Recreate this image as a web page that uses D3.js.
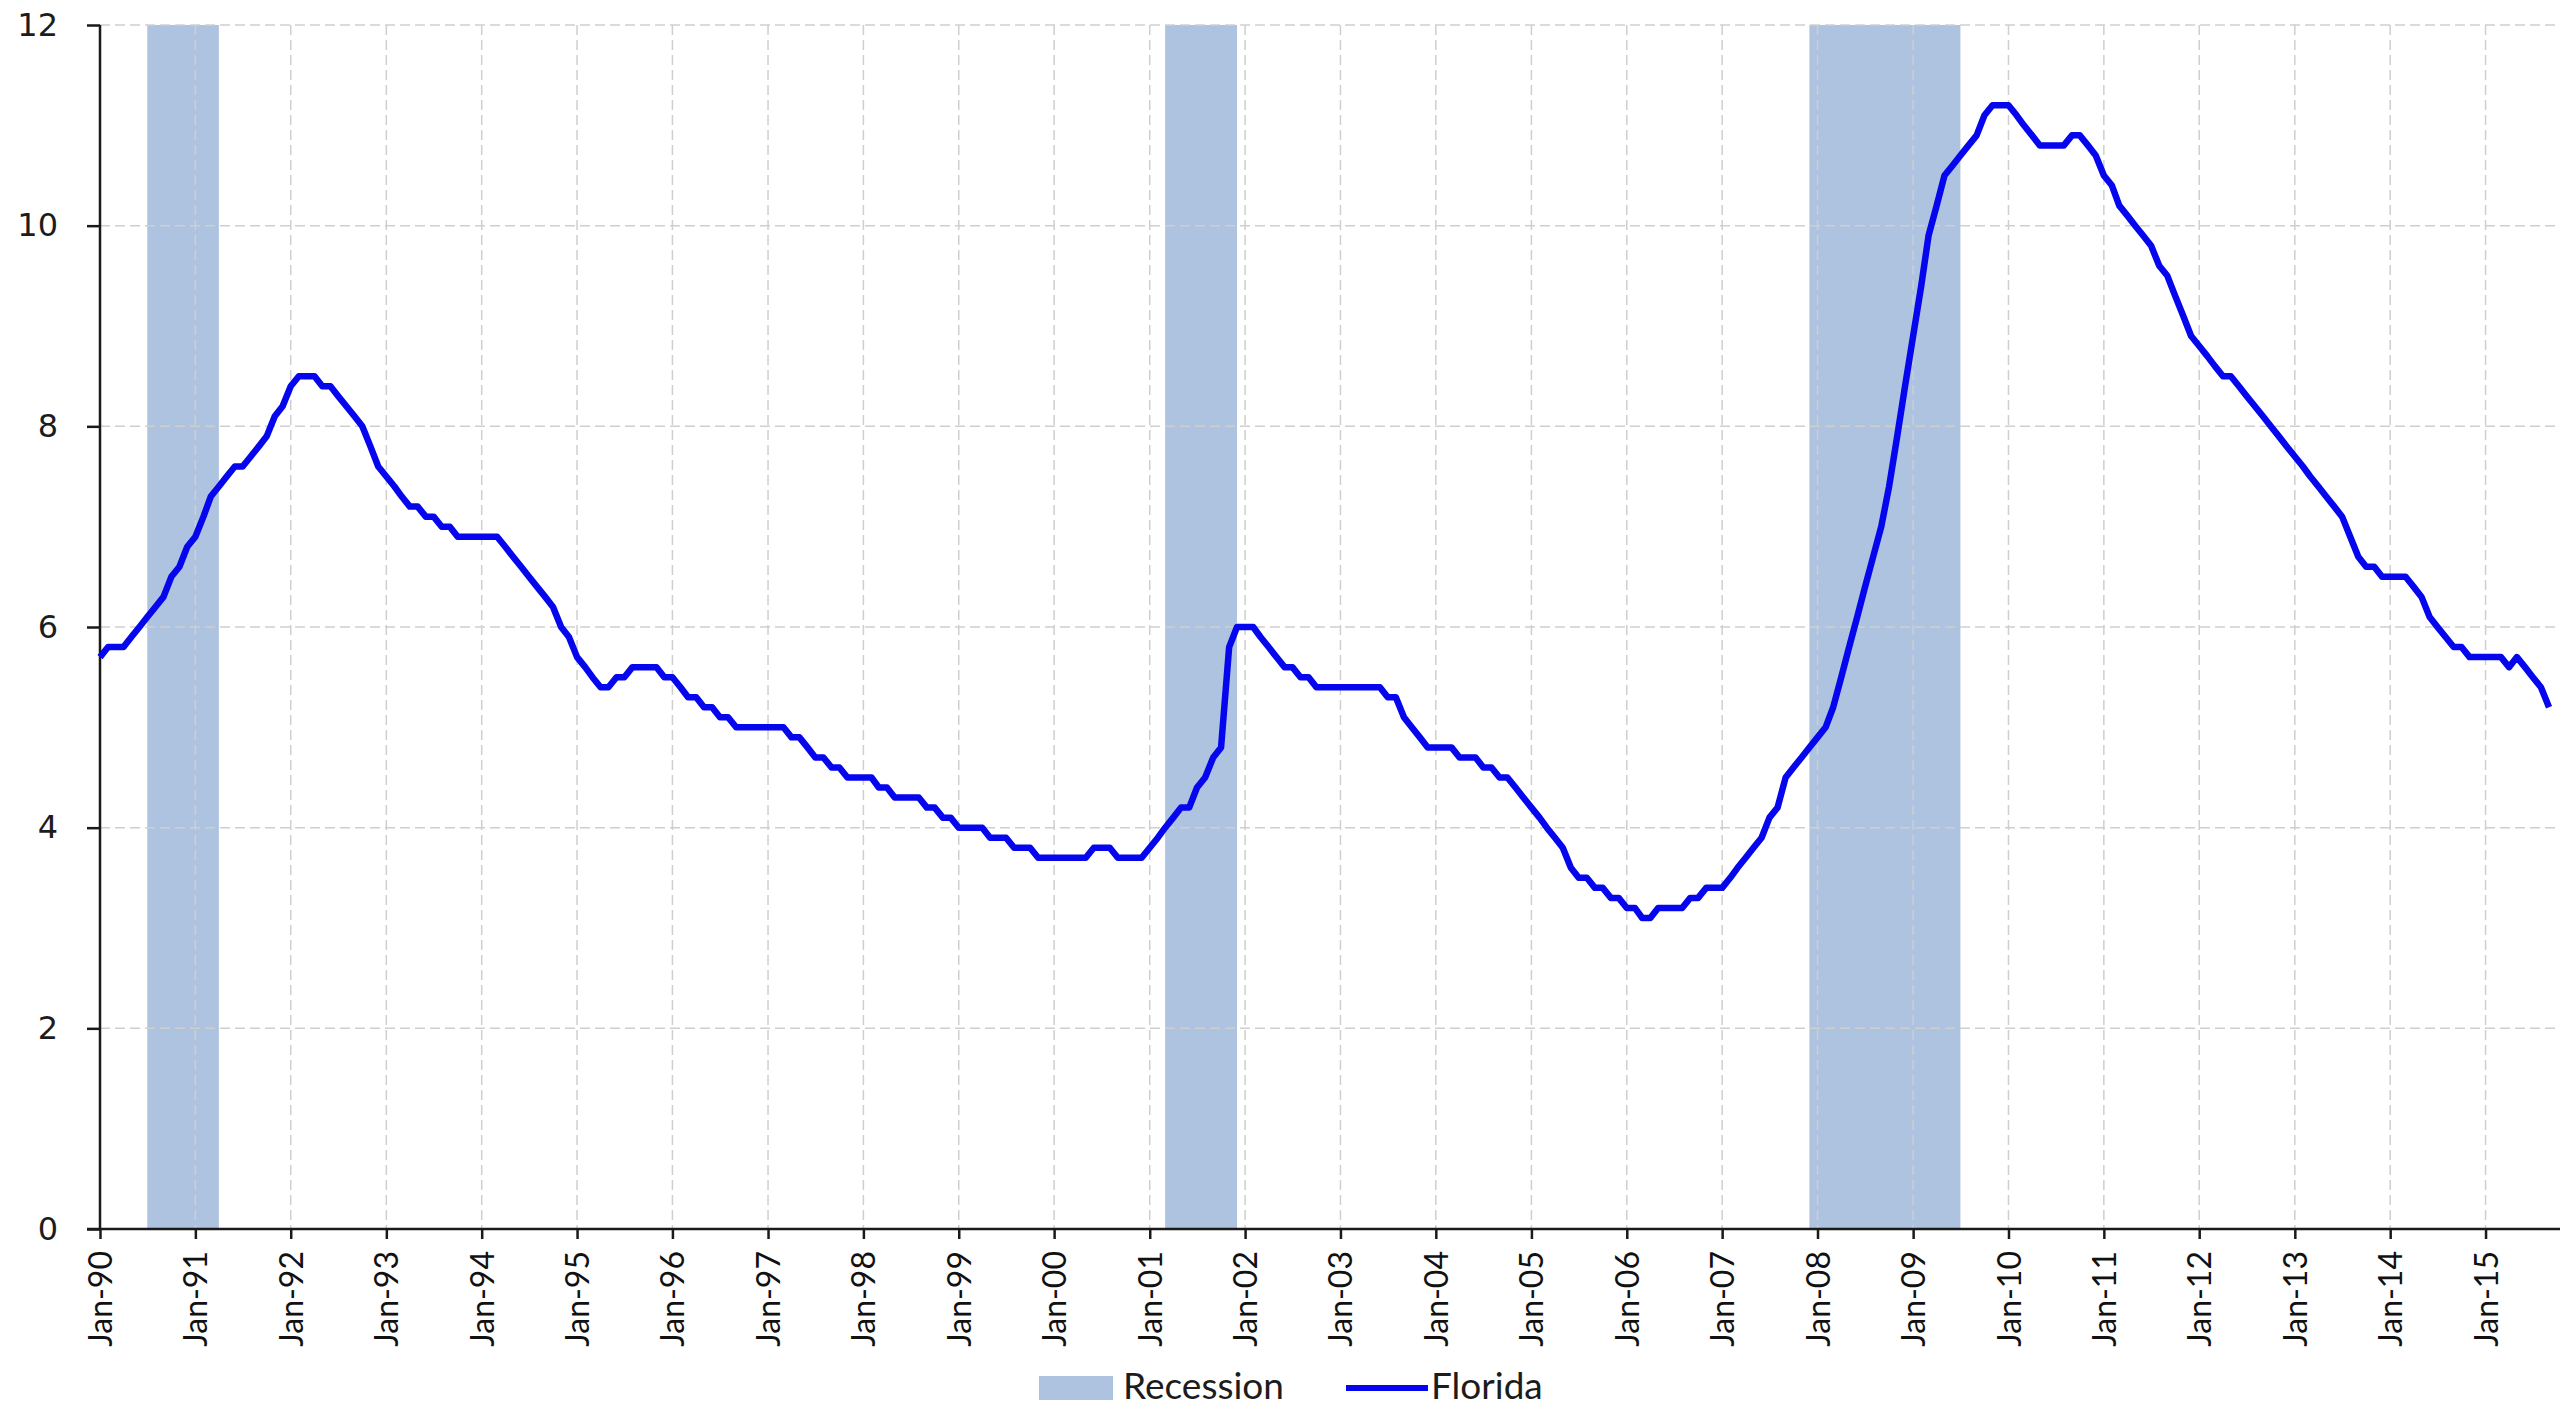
<!DOCTYPE html>
<html>
<head>
<meta charset="utf-8">
<script src="https://cdn.jsdelivr.net/npm/d3@7"></script>
<style>
  body { margin: 0; background: #fff; }
  svg { display: block; }
</style>
</head>
<body>
<div id="chart"></div>
<script>
const width = 2575;
const height = 1409;

// Florida unemployment rate, monthly from Jan 1990
const seriesStart = new Date(1990, 0, 1);
const floridaRate = [
  5.7, 5.8, 5.8, 5.8, 5.9, 6.0, 6.1, 6.2, 6.3, 6.5, 6.6, 6.8,       // 1990
  6.9, 7.1, 7.3, 7.4, 7.5, 7.6, 7.6, 7.7, 7.8, 7.9, 8.1, 8.2,       // 1991
  8.4, 8.5, 8.5, 8.5, 8.4, 8.4, 8.3, 8.2, 8.1, 8.0, 7.8, 7.6,       // 1992
  7.5, 7.4, 7.3, 7.2, 7.2, 7.1, 7.1, 7.0, 7.0, 6.9, 6.9, 6.9,       // 1993
  6.9, 6.9, 6.9, 6.8, 6.7, 6.6, 6.5, 6.4, 6.3, 6.2, 6.0, 5.9,       // 1994
  5.7, 5.6, 5.5, 5.4, 5.4, 5.5, 5.5, 5.6, 5.6, 5.6, 5.6, 5.5,       // 1995
  5.5, 5.4, 5.3, 5.3, 5.2, 5.2, 5.1, 5.1, 5.0, 5.0, 5.0, 5.0,       // 1996
  5.0, 5.0, 5.0, 4.9, 4.9, 4.8, 4.7, 4.7, 4.6, 4.6, 4.5, 4.5,       // 1997
  4.5, 4.5, 4.4, 4.4, 4.3, 4.3, 4.3, 4.3, 4.2, 4.2, 4.1, 4.1,       // 1998
  4.0, 4.0, 4.0, 4.0, 3.9, 3.9, 3.9, 3.8, 3.8, 3.8, 3.7, 3.7,       // 1999
  3.7, 3.7, 3.7, 3.7, 3.7, 3.8, 3.8, 3.8, 3.7, 3.7, 3.7, 3.7,       // 2000
  3.8, 3.9, 4.0, 4.1, 4.2, 4.2, 4.4, 4.5, 4.7, 4.8, 5.8, 6.0,       // 2001
  6.0, 6.0, 5.9, 5.8, 5.7, 5.6, 5.6, 5.5, 5.5, 5.4, 5.4, 5.4,       // 2002
  5.4, 5.4, 5.4, 5.4, 5.4, 5.4, 5.3, 5.3, 5.1, 5.0, 4.9, 4.8,       // 2003
  4.8, 4.8, 4.8, 4.7, 4.7, 4.7, 4.6, 4.6, 4.5, 4.5, 4.4, 4.3,       // 2004
  4.2, 4.1, 4.0, 3.9, 3.8, 3.6, 3.5, 3.5, 3.4, 3.4, 3.3, 3.3,       // 2005
  3.2, 3.2, 3.1, 3.1, 3.2, 3.2, 3.2, 3.2, 3.3, 3.3, 3.4, 3.4,       // 2006
  3.4, 3.5, 3.6, 3.7, 3.8, 3.9, 4.1, 4.2, 4.5, 4.6, 4.7, 4.8,       // 2007
  4.9, 5.0, 5.2, 5.5, 5.8, 6.1, 6.4, 6.7, 7.0, 7.4, 7.9, 8.4,       // 2008
  8.9, 9.4, 9.9, 10.2, 10.5, 10.6, 10.7, 10.8, 10.9, 11.1, 11.2, 11.2, // 2009
  11.2, 11.1, 11.0, 10.9, 10.8, 10.8, 10.8, 10.8, 10.9, 10.9, 10.8, 10.7, // 2010
  10.5, 10.4, 10.2, 10.1, 10.0, 9.9, 9.8, 9.6, 9.5, 9.3, 9.1, 8.9,  // 2011
  8.8, 8.7, 8.6, 8.5, 8.5, 8.4, 8.3, 8.2, 8.1, 8.0, 7.9, 7.8,       // 2012
  7.7, 7.6, 7.5, 7.4, 7.3, 7.2, 7.1, 6.9, 6.7, 6.6, 6.6, 6.5,       // 2013
  6.5, 6.5, 6.5, 6.4, 6.3, 6.1, 6.0, 5.9, 5.8, 5.8, 5.7, 5.7,       // 2014
  5.7, 5.7, 5.7, 5.6, 5.7, 5.6, 5.5, 5.4, 5.2                      // 2015
];

// Recession periods (first month, month after last)
const recessionStarts = [new Date(1990, 6, 1), new Date(2001, 2, 1), new Date(2007, 11, 1)];
const recessionEnds = [new Date(1991, 3, 1), new Date(2001, 11, 1), new Date(2009, 6, 1)];

const yTicks = [0, 2, 4, 6, 8, 10, 12];
const xTickYears = d3.range(1990, 2016);

const legendLabels = ['Recession', 'Florida'];

const lineColor = '#0505ee';
const recessionColor = '#adc3df';
const gridColor = '#cfcfcf';
const axisColor = '#1a1a1a';

const data = floridaRate.map((v, i) => ({ date: d3.timeMonth.offset(seriesStart, i), value: v }));

const margin = { left: 100, right: 15, top: 25, bottom: 180 };

const x = d3.scaleTime()
  .domain([new Date(1990, 0, 1), new Date(2015, 9, 13)])
  .range([margin.left, width - margin.right]);

const y = d3.scaleLinear()
  .domain([0, 12])
  .range([height - margin.bottom, margin.top]);

const svg = d3.select('#chart')
  .append('svg')
  .attr('width', width)
  .attr('height', height);

svg.append('rect')
  .attr('width', width)
  .attr('height', height)
  .attr('fill', '#fff');

// Recession bands
svg.append('g')
  .selectAll('rect')
  .data(recessionStarts.map((s, i) => [s, recessionEnds[i]]))
  .join('rect')
  .attr('x', d => x(d[0]))
  .attr('width', d => x(d[1]) - x(d[0]))
  .attr('y', y(12))
  .attr('height', y(0) - y(12))
  .attr('fill', recessionColor);

// Grid lines
const xTickDates = xTickYears.map(yr => new Date(yr, 0, 1));

svg.append('g')
  .selectAll('line')
  .data(xTickDates.slice(1))
  .join('line')
  .attr('x1', d => x(d))
  .attr('x2', d => x(d))
  .attr('y1', y(12))
  .attr('y2', y(0))
  .attr('stroke', gridColor)
  .attr('stroke-width', 1.5)
  .attr('stroke-dasharray', '10,5');

svg.append('g')
  .selectAll('line')
  .data(yTicks.slice(1))
  .join('line')
  .attr('x1', x.range()[0])
  .attr('x2', x.range()[1])
  .attr('y1', d => y(d))
  .attr('y2', d => y(d))
  .attr('stroke', gridColor)
  .attr('stroke-width', 1.5)
  .attr('stroke-dasharray', '10,5');

// Axes
const yAxis = svg.append('g')
  .attr('transform', `translate(${margin.left},0)`)
  .call(d3.axisLeft(y).tickValues(yTicks).tickSize(13).tickPadding(29).tickFormat(d3.format('d')));

yAxis.selectAll('text')
  .attr('font-family', 'DejaVu Sans, Verdana, sans-serif')
  .attr('font-size', 32)
  .attr('fill', '#1c1c1c');

const xAxis = svg.append('g')
  .attr('transform', `translate(0,${y(0)})`)
  .call(d3.axisBottom(x).tickValues(xTickDates).tickSize(10).tickFormat(d3.timeFormat('%b-%y')));

xAxis.selectAll('text')
  .attr('font-family', 'Lato, sans-serif')
  .attr('font-size', 32)
  .attr('fill', '#111')
  .attr('text-anchor', 'end')
  .attr('transform', 'rotate(-90)')
  .attr('x', -22)
  .attr('y', 0)
  .attr('dy', '0.36em');

[yAxis, xAxis].forEach(g => {
  g.select('.domain').attr('stroke', axisColor).attr('stroke-width', 2.5);
  g.selectAll('.tick line').attr('stroke', axisColor).attr('stroke-width', 2.5);
});
// axis line reaches out to the left like the zero tick
xAxis.select('.domain').attr('d', `M${margin.left - 13},0H${x.range()[1]}`);
yAxis.select('.domain').attr('d', `M0,${y(12)}V${y(0)}`);

// Florida line
const line = d3.line()
  .x(d => x(d.date))
  .y(d => y(d.value));

svg.append('path')
  .datum(data)
  .attr('d', line)
  .attr('fill', 'none')
  .attr('stroke', lineColor)
  .attr('stroke-width', 6.5)
  .attr('stroke-linejoin', 'round');

// Legend
const legend = svg.append('g')
  .attr('font-family', 'Lato, sans-serif')
  .attr('font-size', 37)
  .attr('fill', '#1c1c1c');

legend.append('rect')
  .attr('x', 1039)
  .attr('y', 1376)
  .attr('width', 74)
  .attr('height', 24)
  .attr('fill', recessionColor);

legend.append('text')
  .attr('x', 1123)
  .attr('y', 1399)
  .text(legendLabels[0]);

legend.append('line')
  .attr('x1', 1346)
  .attr('x2', 1428)
  .attr('y1', 1388)
  .attr('y2', 1388)
  .attr('stroke', lineColor)
  .attr('stroke-width', 6);

legend.append('text')
  .attr('x', 1431)
  .attr('y', 1399)
  .text(legendLabels[1]);
</script>
</body>
</html>
